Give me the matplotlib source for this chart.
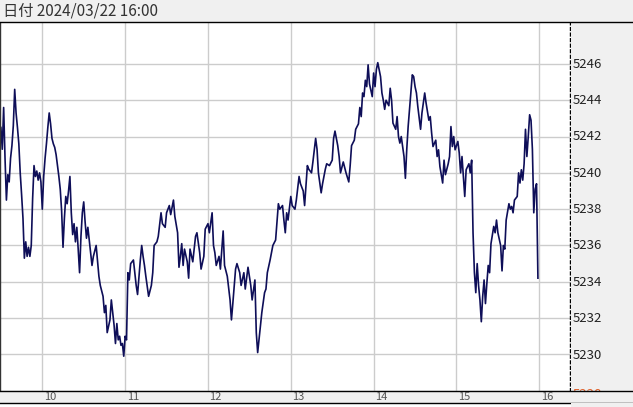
import numpy as np
import matplotlib
matplotlib.use('Agg')
import matplotlib.pyplot as plt

plt.rcParams['font.family'] = ['Noto Sans CJK JP', 'DejaVu Sans']

# minutes after 9:30 and price (1-min line)
minutos = [0, 1, 2, 3, 4, 5, 6, 7, 8, 9, 10, 11, 12, 13, 14, 15, 16, 17, 18, 19,
           20, 21, 22, 23, 24, 25, 26, 27, 28, 29, 30, 31, 32, 33, 34, 35, 36, 37, 38, 39,
           40, 41, 42, 43, 44, 45, 46, 47, 48, 49, 50, 51, 52, 53, 54, 55, 56, 57, 58, 59,
           60, 61, 62, 63, 64, 66, 67, 69, 71, 72, 74, 75, 76, 77, 79, 80, 82, 83, 84, 85,
           86, 87, 88, 89, 90, 91, 92, 93, 94, 96, 97, 98, 99, 101, 102, 103, 104, 105, 107, 109,
           110, 111, 113, 114, 116, 117, 119, 120, 122, 123, 125, 126, 128, 129, 130, 131, 132, 133, 135, 136,
           137, 139, 141, 142, 144, 145, 147, 148, 150, 151, 153, 154, 155, 156, 158, 159, 161, 162, 164, 166,
           167, 168, 170, 171, 173, 174, 176, 177, 179, 181, 182, 184, 185, 186, 188, 189, 191, 192, 193, 195,
           196, 197, 199, 201, 202, 204, 205, 206, 207, 208, 210, 211, 213, 214, 216, 217, 219, 220, 222, 223,
           225, 226, 228, 229, 230, 232, 233, 235, 236, 238, 240, 241, 242, 244, 245, 246, 248, 250, 252, 253,
           254, 256, 257, 259, 260, 261, 262, 263, 264, 265, 266, 267, 269, 270, 271, 272, 273, 275, 276, 277,
           278, 279, 281, 282, 283, 284, 286, 287, 288, 289, 290, 292, 293, 294, 295, 296, 298, 299, 300, 301,
           302, 304, 305, 306, 307, 308, 310, 311, 312, 313, 315, 316, 317, 318, 320, 321, 322, 324, 325, 326,
           327, 328, 329, 331, 332, 333, 334, 335, 336, 337, 339, 340, 341, 342, 343, 344, 345, 346, 347, 348,
           349, 350, 351, 352, 353, 354, 355, 357, 358, 359, 360, 362, 363, 364, 365, 366, 368, 369, 370, 371,
           372, 374, 375, 376, 377, 378, 379, 380, 381, 382, 383, 384, 385, 386, 387, 388, 389]
precos = [5242.5, 5241.3, 5243.6, 5240.8, 5238.5, 5239.9, 5239.5, 5240.8, 5241.5, 5242.6,
          5244.6, 5243.3, 5242.5, 5241.6, 5240.0, 5238.8, 5237.5, 5235.3, 5236.2, 5235.4,
          5235.9, 5235.4, 5236.0, 5238.6, 5240.4, 5239.8, 5240.1, 5239.6, 5240.0, 5239.5,
          5238.0, 5239.8, 5240.8, 5241.6, 5242.5, 5243.3, 5242.7, 5241.9, 5241.6, 5241.4,
          5241.0, 5240.4, 5239.8, 5239.1, 5237.9, 5235.9, 5237.5, 5238.7, 5238.3, 5239.0,
          5239.8, 5237.8, 5236.6, 5237.2, 5236.2, 5237.0, 5235.8, 5234.5, 5236.5, 5237.8,
          5238.4, 5237.3, 5236.4, 5237.0, 5236.3, 5234.9, 5235.4, 5236.0, 5234.3, 5233.8,
          5233.2, 5232.3, 5232.7, 5231.2, 5231.9, 5233.0, 5231.6, 5230.6, 5231.7, 5230.8,
          5231.0, 5230.5, 5230.6, 5229.9, 5231.0, 5230.8, 5234.5, 5234.1, 5235.0, 5235.2,
          5234.5, 5233.8, 5233.3, 5235.2, 5236.0, 5235.4, 5234.9, 5234.3, 5233.2, 5233.8,
          5234.5, 5236.0, 5236.2, 5236.5, 5237.8, 5237.2, 5237.0, 5237.8, 5238.2, 5237.7,
          5238.5, 5237.6, 5236.7, 5234.8, 5235.4, 5236.1, 5234.9, 5235.8, 5235.1, 5234.2,
          5235.8, 5235.1, 5236.5, 5236.7, 5235.6, 5234.7, 5235.4, 5236.9, 5237.2, 5236.7,
          5237.8, 5236.0, 5235.6, 5234.9, 5235.4, 5234.7, 5236.8, 5234.9, 5234.3, 5233.0,
          5231.9, 5232.8, 5234.7, 5235.0, 5234.5, 5233.8, 5234.5, 5233.6, 5234.8, 5233.8,
          5233.0, 5234.1, 5231.2, 5230.1, 5231.6, 5232.3, 5233.4, 5233.6, 5234.5, 5235.2,
          5235.6, 5236.0, 5236.3, 5238.3, 5238.0, 5238.2, 5237.4, 5236.7, 5237.8, 5237.4,
          5238.7, 5238.2, 5238.0, 5238.5, 5239.8, 5239.4, 5239.0, 5238.2, 5240.4, 5240.2,
          5240.0, 5240.6, 5241.9, 5241.3, 5240.0, 5238.9, 5239.4, 5240.2, 5240.5, 5240.4,
          5240.7, 5241.9, 5242.3, 5241.5, 5240.9, 5240.0, 5240.6, 5240.0, 5239.5, 5240.4,
          5241.5, 5241.8, 5242.4, 5242.7, 5243.6, 5243.1, 5244.4, 5244.2, 5245.1, 5244.75,
          5245.95, 5244.9, 5244.2, 5245.5, 5244.75, 5245.7, 5246.07, 5245.3, 5244.4, 5244.0,
          5243.5, 5244.0, 5243.7, 5244.66, 5244.0, 5242.74, 5242.4, 5243.1, 5242.0, 5241.64,
          5242.0, 5240.9, 5239.7, 5241.3, 5242.55, 5243.5, 5245.4, 5245.3, 5244.75, 5244.4,
          5243.65, 5242.4, 5243.3, 5243.84, 5244.4, 5243.84, 5242.9, 5243.1, 5242.2, 5241.45,
          5241.8, 5240.9, 5241.27, 5240.35, 5239.44, 5240.7, 5239.9, 5240.5, 5240.9, 5242.55,
          5241.45, 5242.0, 5241.27, 5241.73, 5241.1, 5240.0, 5240.9, 5239.8, 5238.7, 5240.17,
          5240.5, 5240.0, 5240.7, 5236.7, 5234.5, 5233.4, 5235.0, 5233.8, 5233.0, 5231.8,
          5233.2, 5234.1, 5232.8, 5233.9, 5234.9, 5234.5, 5236.1, 5237.05, 5236.7, 5237.4,
          5236.7, 5236.0, 5234.6, 5236.0, 5235.8, 5237.4, 5238.3, 5238.0, 5238.15, 5237.8,
          5238.5, 5238.7, 5240.0, 5239.44, 5240.17, 5239.6, 5240.5, 5242.4, 5240.9, 5242.0,
          5243.2, 5242.9, 5241.3, 5237.8, 5239.1, 5239.4, 5234.2]

horas_ticks = [10, 11, 12, 13, 14, 15, 16]
precos_ticks = [5230, 5232, 5234, 5236, 5238, 5240, 5242, 5244, 5246]
titulo = '日付 2024/03/22 16:00'

W, H = 633, 407
cinza = '#f0f0f0'
x0, x1 = 9.4893, 16.3646
y0, y1 = 5228.04, 5248.31

horas = 9.5 + np.array(minutos) / 60.0

fig = plt.figure(figsize=(W / 100, H / 100), dpi=100)
fig.patch.set_facecolor('white')

def caixa(l, t, r, b):
    # pixel box -> figure fraction
    return [l / W, 1 - b / H, (r - l) / W, (b - t) / H]

# grafico principal
ax = fig.add_axes(caixa(0, 22, 569.5, 390.7))
ax.plot(horas, precos, color='#0e0e58', lw=1.2)
ax.set_xlim(x0, x1)
ax.set_ylim(y0, y1)
ax.set_xticks(horas_ticks)
ax.set_yticks(precos_ticks + [5228])
ax.grid(True, color='#cccccc', lw=1)
ax.set_axisbelow(True)
ax.tick_params(length=0, labelbottom=False, labelleft=False)
for s in ['top', 'bottom']:
    ax.spines[s].set_visible(False)
ax.spines['left'].set_color('#333333')
ax.spines['left'].set_linewidth(1)
ax.spines['right'].set_linestyle((0, (2, 2)))
ax.spines['right'].set_color('black')
ax.spines['right'].set_linewidth(1)

# eixo de precos a direita
axr = fig.add_axes(caixa(570.5, 22, 633, 390.7))
axr.set_facecolor(cinza)
axr.set_xlim(0, 1)
axr.set_ylim(y0, y1)
axr.set_xticks([])
axr.set_yticks([])
for s in axr.spines.values():
    s.set_visible(False)
for p in precos_ticks:
    axr.text(0.04, p, str(p), fontsize=9.5, color='#222222', va='center', ha='left')
axr.text(0.04, 5227.85, '5228', fontsize=9.5, color='#e0602a', va='center', ha='left', clip_on=True)

# barra de horas embaixo
axb = fig.add_axes(caixa(0, 390.7, 633, 402.7))
axb.set_facecolor(cinza)
axb.set_xlim(x0, x0 + W / 82.83)
axb.set_ylim(0, 1)
axb.set_xticks([])
axb.set_yticks([])
for s in ['left', 'right']:
    axb.spines[s].set_visible(False)
for s in ['top', 'bottom']:
    axb.spines[s].set_color('black')
    axb.spines[s].set_linewidth(1)
for h in horas_ticks:
    axb.text(h + 1.5 / 82.83, 0.45, str(h), fontsize=8, color='#555555', va='center', ha='left')

# faixa inferior direita
axc = fig.add_axes(caixa(570.5, 402.7, 633, 407))
axc.set_facecolor(cinza)
axc.set_xticks([])
axc.set_yticks([])
for s in axc.spines.values():
    s.set_visible(False)

# cabecalho
axt = fig.add_axes(caixa(0, 0, 633, 22))
axt.set_facecolor(cinza)
axt.set_xlim(0, W)
axt.set_ylim(0, 1)
axt.set_xticks([])
axt.set_yticks([])
for s in ['top', 'left', 'right']:
    axt.spines[s].set_visible(False)
axt.spines['bottom'].set_color('black')
axt.spines['bottom'].set_linewidth(1)
axt.text(3, 0.5, titulo, fontsize=11, color='#333333', va='center', ha='left')

fig.savefig('out.png', dpi=100, facecolor='white')
